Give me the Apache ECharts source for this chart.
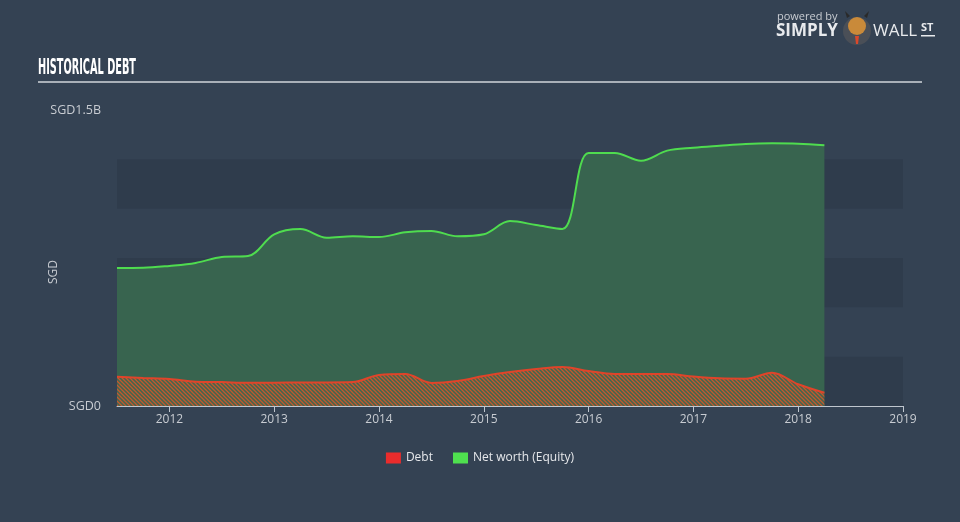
<!DOCTYPE html>
<html>
<head>
<meta charset="utf-8">
<script src="https://cdn.jsdelivr.net/npm/echarts@6/dist/echarts.min.js"></script>
<style>
html,body{margin:0;padding:0;background:#344253;}
#c{width:960px;height:522px;}
</style>
</head>
<body>
<div id="c"></div>
<script>
// quarter-end dates as decimal years
var periods = [2011.5, 2011.75, 2012, 2012.25, 2012.5, 2012.75, 2013, 2013.25, 2013.5, 2013.75, 2014, 2014.25, 2014.5, 2014.75, 2015, 2015.25, 2015.5, 2015.75, 2016, 2016.25, 2016.5, 2016.75, 2017, 2017.25, 2017.5, 2017.75, 2018, 2018.25];
// SGD billions
var netWorth = [0.699, 0.700, 0.710, 0.725, 0.755, 0.760, 0.870, 0.897, 0.853, 0.860, 0.856, 0.880, 0.887, 0.860, 0.870, 0.937, 0.917, 0.897, 1.282, 1.282, 1.243, 1.294, 1.309, 1.319, 1.328, 1.331, 1.329, 1.321];
var debt = [0.148, 0.142, 0.137, 0.123, 0.121, 0.118, 0.118, 0.119, 0.119, 0.121, 0.157, 0.162, 0.117, 0.127, 0.152, 0.172, 0.187, 0.198, 0.177, 0.162, 0.162, 0.162, 0.149, 0.140, 0.138, 0.169, 0.110, 0.067];
var yearTicks = [2012, 2013, 2014, 2015, 2016, 2017, 2018, 2019];

function pairs(vals){ return periods.map(function(p,i){ return [p, vals[i]*1e9]; }); }

// hatch pattern for debt area
var pc = document.createElement('canvas');
pc.width = 4; pc.height = 4;
var g = pc.getContext('2d');
g.fillStyle = 'rgba(80,110,80,0.35)'; g.fillRect(0,0,4,4);
g.strokeStyle = '#c4582e'; g.lineWidth = 1.3;
g.beginPath();
g.moveTo(0,0); g.lineTo(4,4);
g.moveTo(-2,2); g.lineTo(2,6);
g.moveTo(2,-2); g.lineTo(6,2);
g.stroke();

// condensed title scaling
var titleFont = 'bold 19px "Liberation Sans Narrow", "DejaVu Sans Condensed", sans-serif';
var mc = document.createElement('canvas').getContext('2d');
mc.font = titleFont;
var tw = mc.measureText('HISTORICAL DEBT').width;
var tScale = 98 / tw;

var chart = echarts.init(document.getElementById('c'));
chart.setOption({
  backgroundColor: '#344253',
  animation: false,
  grid: {left: 117, right: 57, top: 110, bottom: 116},
  graphic: [
    {type:'text', x: 38, y: 58, scaleX: tScale, scaleY: 1.08, style:{text:'HISTORICAL DEBT', fill:'#ffffff', font: titleFont}},
    {type:'rect', shape:{x:38, y:81, width:884, height:2}, style:{fill:'#a9b0b8'}},
    {type:'text', left: 777, top: 11, style:{text:'powered by', fill:'#c8ccd2', font:'11px "Open Sans", sans-serif'}},
    {type:'text', left: 776, top: 23, style:{text:'SIMPLY', fill:'#e8eaed', font:'bold 17px "Open Sans", sans-serif'}},
    {type:'text', left: 873, top: 23, style:{text:'WALL', fill:'#e8eaed', font:'17px "Open Sans", sans-serif'}},
    {type:'text', left: 921, top: 22, style:{text:'ST', fill:'#e8eaed', font:'bold 11px "Open Sans", sans-serif'}},
    {type:'rect', shape:{x:921, y:35, width:14, height:1.5}, style:{fill:'#e8eaed'}},
    {type:'circle', shape:{cx:857, cy:31, r:14}, style:{fill:'#4a4f57'}},
    {type:'circle', shape:{cx:857, cy:26, r:9}, style:{fill:'#c98a3a'}},
    {type:'polygon', shape:{points:[[847,18],[845,11],[850,16]]}, style:{fill:'#2a2a2a'}},
    {type:'polygon', shape:{points:[[867,18],[869,11],[864,16]]}, style:{fill:'#2a2a2a'}},
    {type:'polygon', shape:{points:[[855,36],[859,36],[858,44],[856,44]]}, style:{fill:'#d9482b'}},
    {type:'text', left: 48, top: 260, rotation: Math.PI/2, style:{text:'SGD', fill:'#c8ccd2', font:'12px "Open Sans", sans-serif', align:'center'}}
  ],
  legend: {
    bottom: 53, left: 'center',
    itemWidth: 15, itemHeight: 11, itemGap: 20, icon: 'rect',
    textStyle: {color: '#e6e8eb', fontSize: 12, fontFamily: '"Open Sans", sans-serif'},
    data: [{name:'Debt', itemStyle:{color:'#ea2c2c'}}, {name:'Net worth (Equity)', itemStyle:{color:'#4fe04f'}}]
  },
  xAxis: {
    type: 'value', min: 2011.5, max: 2019,
    axisLine: {show: true, lineStyle: {color: '#bfc6ce', width: 1}},
    axisTick: {show: true, customValues: yearTicks, length: 6, lineStyle: {color: '#bfc6ce'}},
    axisLabel: {customValues: yearTicks, color: '#c8ccd2', fontSize: 12, margin: 8, fontFamily: '"Open Sans", sans-serif', formatter: function(v){ return String(Math.round(v)); }},
    splitLine: {show: false}
  },
  yAxis: {
    type: 'value', min: 0, max: 1.5e9, interval: 0.25e9,
    axisLine: {show: false}, axisTick: {show: false},
    axisLabel: {color: '#c8ccd2', fontSize: 12.5, margin: 16, fontFamily: '"Open Sans", sans-serif',
      formatter: function(v){ if (v === 0) return 'SGD0'; if (Math.abs(v-1.5e9) < 1) return 'SGD1.5B'; return ''; }},
    splitLine: {show: false},
    splitArea: {show: true, areaStyle: {color: ['#2f3c4c', 'rgba(0,0,0,0)']}}
  },
  series: [
    {name: 'Net worth (Equity)', type: 'line', data: pairs(netWorth), smooth: 0.35, symbol: 'none',
     lineStyle: {color: '#4fdc4f', width: 2}, itemStyle: {color: '#4fe04f'},
     areaStyle: {color: '#38644f', opacity: 1}},
    {name: 'Debt', type: 'line', data: pairs(debt), smooth: 0.35, symbol: 'none',
     lineStyle: {color: '#e0442a', width: 2}, itemStyle: {color: '#ea2c2c'},
     areaStyle: {color: {image: pc, repeat: 'repeat'}, opacity: 1}}
  ]
});
</script>
</body>
</html>
